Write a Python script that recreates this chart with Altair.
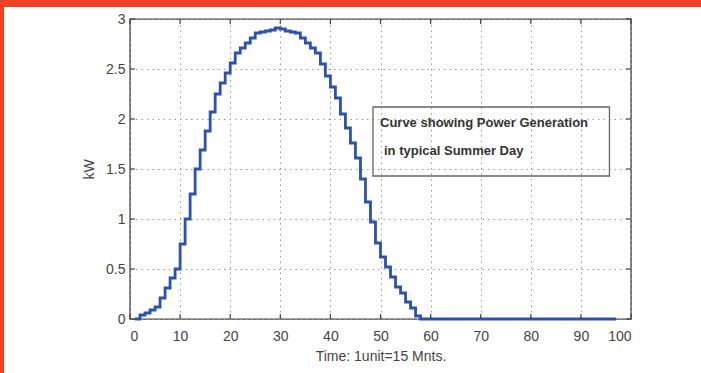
import altair as alt
import pandas as pd

# ---- data ----
units = list(range(1, 98))
kw = [0.0, 0.04, 0.06, 0.09, 0.12, 0.21, 0.31, 0.41, 0.5, 0.75,
      1.0, 1.25, 1.5, 1.69, 1.88, 2.07, 2.25, 2.36, 2.46, 2.56,
      2.66, 2.71, 2.76, 2.81, 2.86, 2.87, 2.88, 2.89, 2.91, 2.9,
      2.88, 2.87, 2.86, 2.81, 2.76, 2.71, 2.66, 2.55, 2.43, 2.32,
      2.21, 2.05, 1.91, 1.76, 1.61, 1.4, 1.17, 0.97, 0.76, 0.62,
      0.52, 0.42, 0.32, 0.26, 0.17, 0.11, 0.03, 0.0, 0.0, 0.0,
      0.0, 0.0, 0.0, 0.0, 0.0, 0.0, 0.0, 0.0, 0.0, 0.0,
      0.0, 0.0, 0.0, 0.0, 0.0, 0.0, 0.0, 0.0, 0.0, 0.0,
      0.0, 0.0, 0.0, 0.0, 0.0, 0.0, 0.0, 0.0, 0.0, 0.0,
      0.0, 0.0, 0.0, 0.0, 0.0, 0.0, 0.0]

x_ticks = [0, 10, 20, 30, 40, 50, 60, 70, 80, 90, 100]
y_ticks = [0, 0.5, 1, 1.5, 2, 2.5, 3]

note_lines = ["Curve showing Power Generation", "in typical Summer Day"]
note_x = [49.9, 50.7]
note_y = [1.96, 1.68]
box_x = [48.5, 95.7]
box_y = [2.12, 1.43]

FONT = "Liberation Sans"
BLUE = "#2b52b0"
ORANGE = "#ef4123"

df = pd.DataFrame({"t": units, "kw": kw})
xt = pd.DataFrame({"xt": x_ticks})
yt = pd.DataFrame({"yt": y_ticks})
notes = pd.DataFrame({"label": note_lines, "nx": note_x, "ny": note_y})
box = pd.DataFrame({"x1": [box_x[0]], "x2": [box_x[1]], "y1": [box_y[0]], "y2": [box_y[1]]})

xscale = alt.Scale(domain=[0, 100], nice=False, zero=False)
yscale = alt.Scale(domain=[0, 3], nice=False, zero=False)

# decorative orange border of the picture (left and top bands)
one = pd.DataFrame({"a": [0]})
band_left = alt.Chart(one).mark_rect(color=ORANGE).encode(
    x=alt.value(-130), x2=alt.value(-126), y=alt.value(-19), y2=alt.value(354))
band_top = alt.Chart(one).mark_rect(color=ORANGE).encode(
    x=alt.value(-130), x2=alt.value(571), y=alt.value(-19), y2=alt.value(-12))

line = alt.Chart(df).mark_line(
    interpolate="step-after", color=BLUE, strokeWidth=2.8
).encode(
    x=alt.X("t:Q", scale=xscale,
            axis=alt.Axis(values=x_ticks, title="Time: 1unit=15 Mnts.",
                          grid=True, gridDash=[1.5, 4], gridColor="#999",
                          gridWidth=1, ticks=False, domain=False,
                          labelPadding=10, titlePadding=6)),
    y=alt.Y("kw:Q", scale=yscale,
            axis=alt.Axis(values=y_ticks, title="kW", format="~g",
                          grid=True, gridDash=[1.5, 4], gridColor="#999",
                          gridWidth=1, ticks=False, domain=False,
                          labelPadding=5, titlePadding=9)),
)

tick_len = 5
xt_bottom = alt.Chart(xt).mark_rule(color="#444", strokeWidth=1.2).encode(
    x=alt.X("xt:Q", scale=xscale), y=alt.value(300), y2=alt.value(300 - tick_len))
xt_top = alt.Chart(xt).mark_rule(color="#444", strokeWidth=1.2).encode(
    x=alt.X("xt:Q", scale=xscale), y=alt.value(0), y2=alt.value(tick_len))
yt_left = alt.Chart(yt).mark_rule(color="#444", strokeWidth=1.2).encode(
    y=alt.Y("yt:Q", scale=yscale), x=alt.value(0), x2=alt.value(tick_len))
yt_right = alt.Chart(yt).mark_rule(color="#444", strokeWidth=1.2).encode(
    y=alt.Y("yt:Q", scale=yscale), x=alt.value(501), x2=alt.value(501 - tick_len))

note_box = alt.Chart(box).mark_rect(
    fillOpacity=0, stroke="#666", strokeWidth=1.3
).encode(
    x=alt.X("x1:Q", scale=xscale), x2="x2:Q",
    y=alt.Y("y1:Q", scale=yscale), y2="y2:Q",
)

note_text = alt.Chart(notes).mark_text(
    align="left", baseline="middle", font=FONT, fontSize=13,
    fontWeight="bold", color="#333"
).encode(
    x=alt.X("nx:Q", scale=xscale), y=alt.Y("ny:Q", scale=yscale), text="label:N"
)

chart = alt.layer(
    band_left, band_top, line, note_box, note_text,
    xt_bottom, xt_top, yt_left, yt_right
).properties(
    width=501, height=300,
    autosize=alt.AutoSizeParams(type="none"),
    padding={"left": 130, "top": 19, "right": 70, "bottom": 54},
    background="white",
).configure_view(
    stroke="#444", strokeWidth=1.4
).configure_axis(
    labelFont=FONT, titleFont=FONT, labelFontSize=14, titleFontSize=14,
    labelColor="#444", titleColor="#444", titleFontWeight="normal"
)

chart.save("out.html", embed_options={"renderer": "svg", "actions": False})
